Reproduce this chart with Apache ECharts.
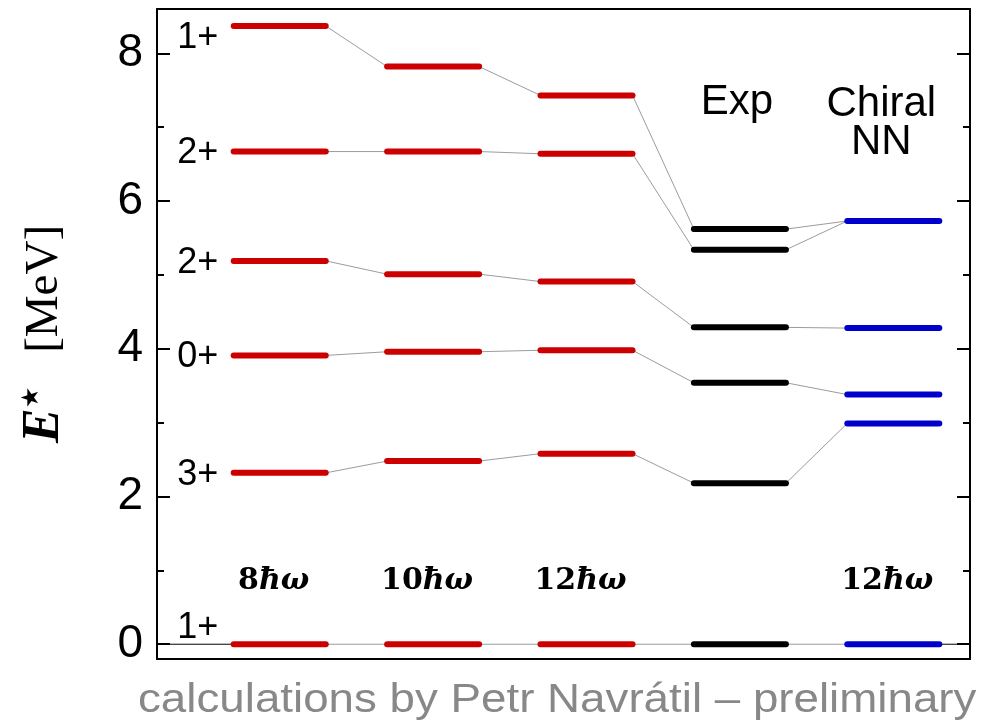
<!DOCTYPE html>
<html>
<head>
<meta charset="utf-8">
<script src="https://cdn.jsdelivr.net/npm/echarts@6/dist/echarts.min.js"></script>
<style>html,body{margin:0;padding:0;background:#fff}#c{width:998px;height:728px}</style>
</head>
<body>
<div id="c"></div>
<script>
// ---- data ----
const columns = ['8ħω', '10ħω', '12ħω', 'Exp', 'Chiral NN'];
const basisLabels = ['8', '10', '12', '', '12'];
const colHeaders = ['', '', '', 'Exp', 'Chiral\nNN'];
const levels8 = [8.37, 6.67, 5.19, 3.91, 2.32, 0];
const levels10 = [7.82, 6.67, 5.01, 3.96, 2.48, 0];
const levels12 = [7.43, 6.64, 4.91, 3.98, 2.58, 0];
const levelsExp = [5.62, 5.34, 4.29, 3.54, 2.18, 0];
const levelsChiral = [5.73, 4.28, 3.38, 2.99, 0];
const spinLabels = ['1+', '2+', '2+', '0+', '3+', '1+'];
const expToChiral = [0, 0, 1, 2, 3, 4];
const majorTicks = [0, 2, 4, 6, 8];
const minorTicks = [1, 3, 5, 7];

// ---- build ----
const X_MIN = -0.8, X_MAX = 4.5, Y_MIN = -0.2, Y_MAX = 8.6;
const HALF = 0.3;
const colColors = ['#cc0000', '#cc0000', '#cc0000', '#000000', '#0000cc'];
const allLevels = [levels8, levels10, levels12, levelsExp, levelsChiral];

const barData = [];
allLevels.forEach((lv, c) => lv.forEach(e => barData.push([c - HALF, e, c + HALF, e, c])));

const connData = [];
for (let c = 0; c < 3; c++) {
  const a = allLevels[c], b = allLevels[c + 1];
  a.forEach((e, i) => connData.push([c + HALF, e, c + 1 - HALF, b[i], 0]));
}
levelsExp.forEach((e, i) => connData.push([3 + HALF, e, 4 - HALF, levelsChiral[expToChiral[i]], 0]));
// black zero-line stubs at both edges
connData.push([X_MIN, 0, 0 - HALF, 0, 1]);
connData.push([4 + HALF, 0, X_MAX, 0, 1]);

const spinData = spinLabels.map((s, i) => [-0.535, levels8[i], i]);
const basisData = basisLabels.map((b, i) => [i, 0.86, i]).filter(d => basisLabels[d[2]] !== '');
const headerData = colHeaders.map((h, i) => [i, 7.3, i]).filter(d => colHeaders[d[2]] !== '');

const chart = echarts.init(document.getElementById('c'), null, {renderer: 'canvas'});

const frameLine = {show: true, onZero: false, lineStyle: {color: '#000', width: 2}};
function yAx(pos, ticks, len, main) {
  return {
    type: 'value', min: Y_MIN, max: Y_MAX, position: pos,
    axisLine: main ? frameLine : {show: false, onZero: false},
    axisTick: {show: true, inside: true, length: len, customValues: ticks, lineStyle: {color: '#000', width: 2}},
    axisLabel: (main && pos === 'left') ? {show: true, customValues: majorTicks, fontSize: 46, color: '#000', fontFamily: 'Liberation Sans', margin: 14} : {show: false},
    splitLine: {show: false}
  };
}
const yLeft = yAx('left', majorTicks, 13, true);
yLeft.name = '{e|E}{s|★}{u|[MeV]}';
yLeft.nameLocation = 'middle';
yLeft.nameRotate = 90;
yLeft.nameGap = 86;
yLeft.nameTextStyle = {
  rich: {
    e: {fontFamily: 'Liberation Serif', fontStyle: 'italic', fontWeight: 'bold', fontSize: 52, color: '#000'},
    s: {fontFamily: 'DejaVu Sans', fontSize: 24, color: '#000', padding: [0, 34, 26, 0]},
    u: {fontFamily: 'Liberation Serif', fontSize: 47, color: '#000'}
  }
};

function lineRender(width, colorFn) {
  return function (params, api) {
    const p1 = api.coord([api.value(0), api.value(1)]);
    const p2 = api.coord([api.value(2), api.value(3)]);
    return {type: 'line', shape: {x1: p1[0], y1: p1[1], x2: p2[0], y2: p2[1]},
      style: {stroke: colorFn(api.value(4)), lineWidth: width, lineCap: 'round'}};
  };
}

const option = {
  backgroundColor: '#fff',
  animation: false,
  grid: {left: 157, right: 28, top: 9, bottom: 69},
  xAxis: [
    {type: 'value', min: X_MIN, max: X_MAX, position: 'bottom', axisLine: frameLine, axisTick: {show: false}, axisLabel: {show: false}, splitLine: {show: false}},
    {type: 'value', min: X_MIN, max: X_MAX, position: 'top', axisLine: frameLine, axisTick: {show: false}, axisLabel: {show: false}, splitLine: {show: false}}
  ],
  yAxis: [yLeft, yAx('left', minorTicks, 7, false), yAx('right', majorTicks, 13, true), yAx('right', minorTicks, 7, false)],
  series: [
    {type: 'custom', coordinateSystem: 'cartesian2d', data: connData, z: 2, clip: false,
      renderItem: lineRender(1, v => v === 1 ? '#000' : '#9c9c9c')},
    {type: 'custom', coordinateSystem: 'cartesian2d', data: barData, z: 3,
      renderItem: lineRender(6, v => colColors[v])},
    {type: 'custom', coordinateSystem: 'cartesian2d', data: spinData, z: 4,
      renderItem: function (params, api) {
        const p = api.coord([api.value(0), api.value(1)]);
        const i = api.value(2);
        const dy = i === 0 ? 12 : (i === spinLabels.length - 1 ? -16 : 2);
        return {type: 'text', x: p[0], y: p[1] + dy,
          style: {text: spinLabels[i], fontSize: 36, fontFamily: 'Liberation Sans', fill: '#000', align: 'center', verticalAlign: 'middle'}};
      }},
    {type: 'custom', coordinateSystem: 'cartesian2d', data: basisData, z: 4,
      renderItem: function (params, api) {
        const p = api.coord([api.value(0), api.value(1)]);
        const i = api.value(2);
        return {type: 'text', x: p[0] - 6, y: p[1],
          style: {text: '{n|' + basisLabels[i] + '}{h|ħω}', align: 'center', verticalAlign: 'middle',
            rich: {
              n: {fontFamily: 'DejaVu Serif', fontWeight: 'bold', fontSize: 30, fill: '#000'},
              h: {fontFamily: 'DejaVu Serif', fontWeight: 'bold', fontStyle: 'italic', fontSize: 30, fill: '#000'}
            }}};
      }},
    {type: 'custom', coordinateSystem: 'cartesian2d', data: headerData, z: 4,
      renderItem: function (params, api) {
        const p = api.coord([api.value(0), api.value(1)]);
        const i = api.value(2);
        return {type: 'text', x: p[0] - (i === 4 ? 12 : 3), y: p[1] + (i === 4 ? 18 : -3),
          style: {text: colHeaders[i], fontSize: 42, lineHeight: 38, fontFamily: 'Liberation Sans', fill: '#000', align: 'center', verticalAlign: 'middle'}};
      }}
  ],
  graphic: [
    {type: 'text', x: 138, y: 680, scaleX: 1.115,
      style: {text: 'calculations by Petr Navrátil – preliminary', fontSize: 41, fontFamily: 'Liberation Sans', fill: '#888'}}
  ]
};
chart.setOption(option);
</script>
</body>
</html>
